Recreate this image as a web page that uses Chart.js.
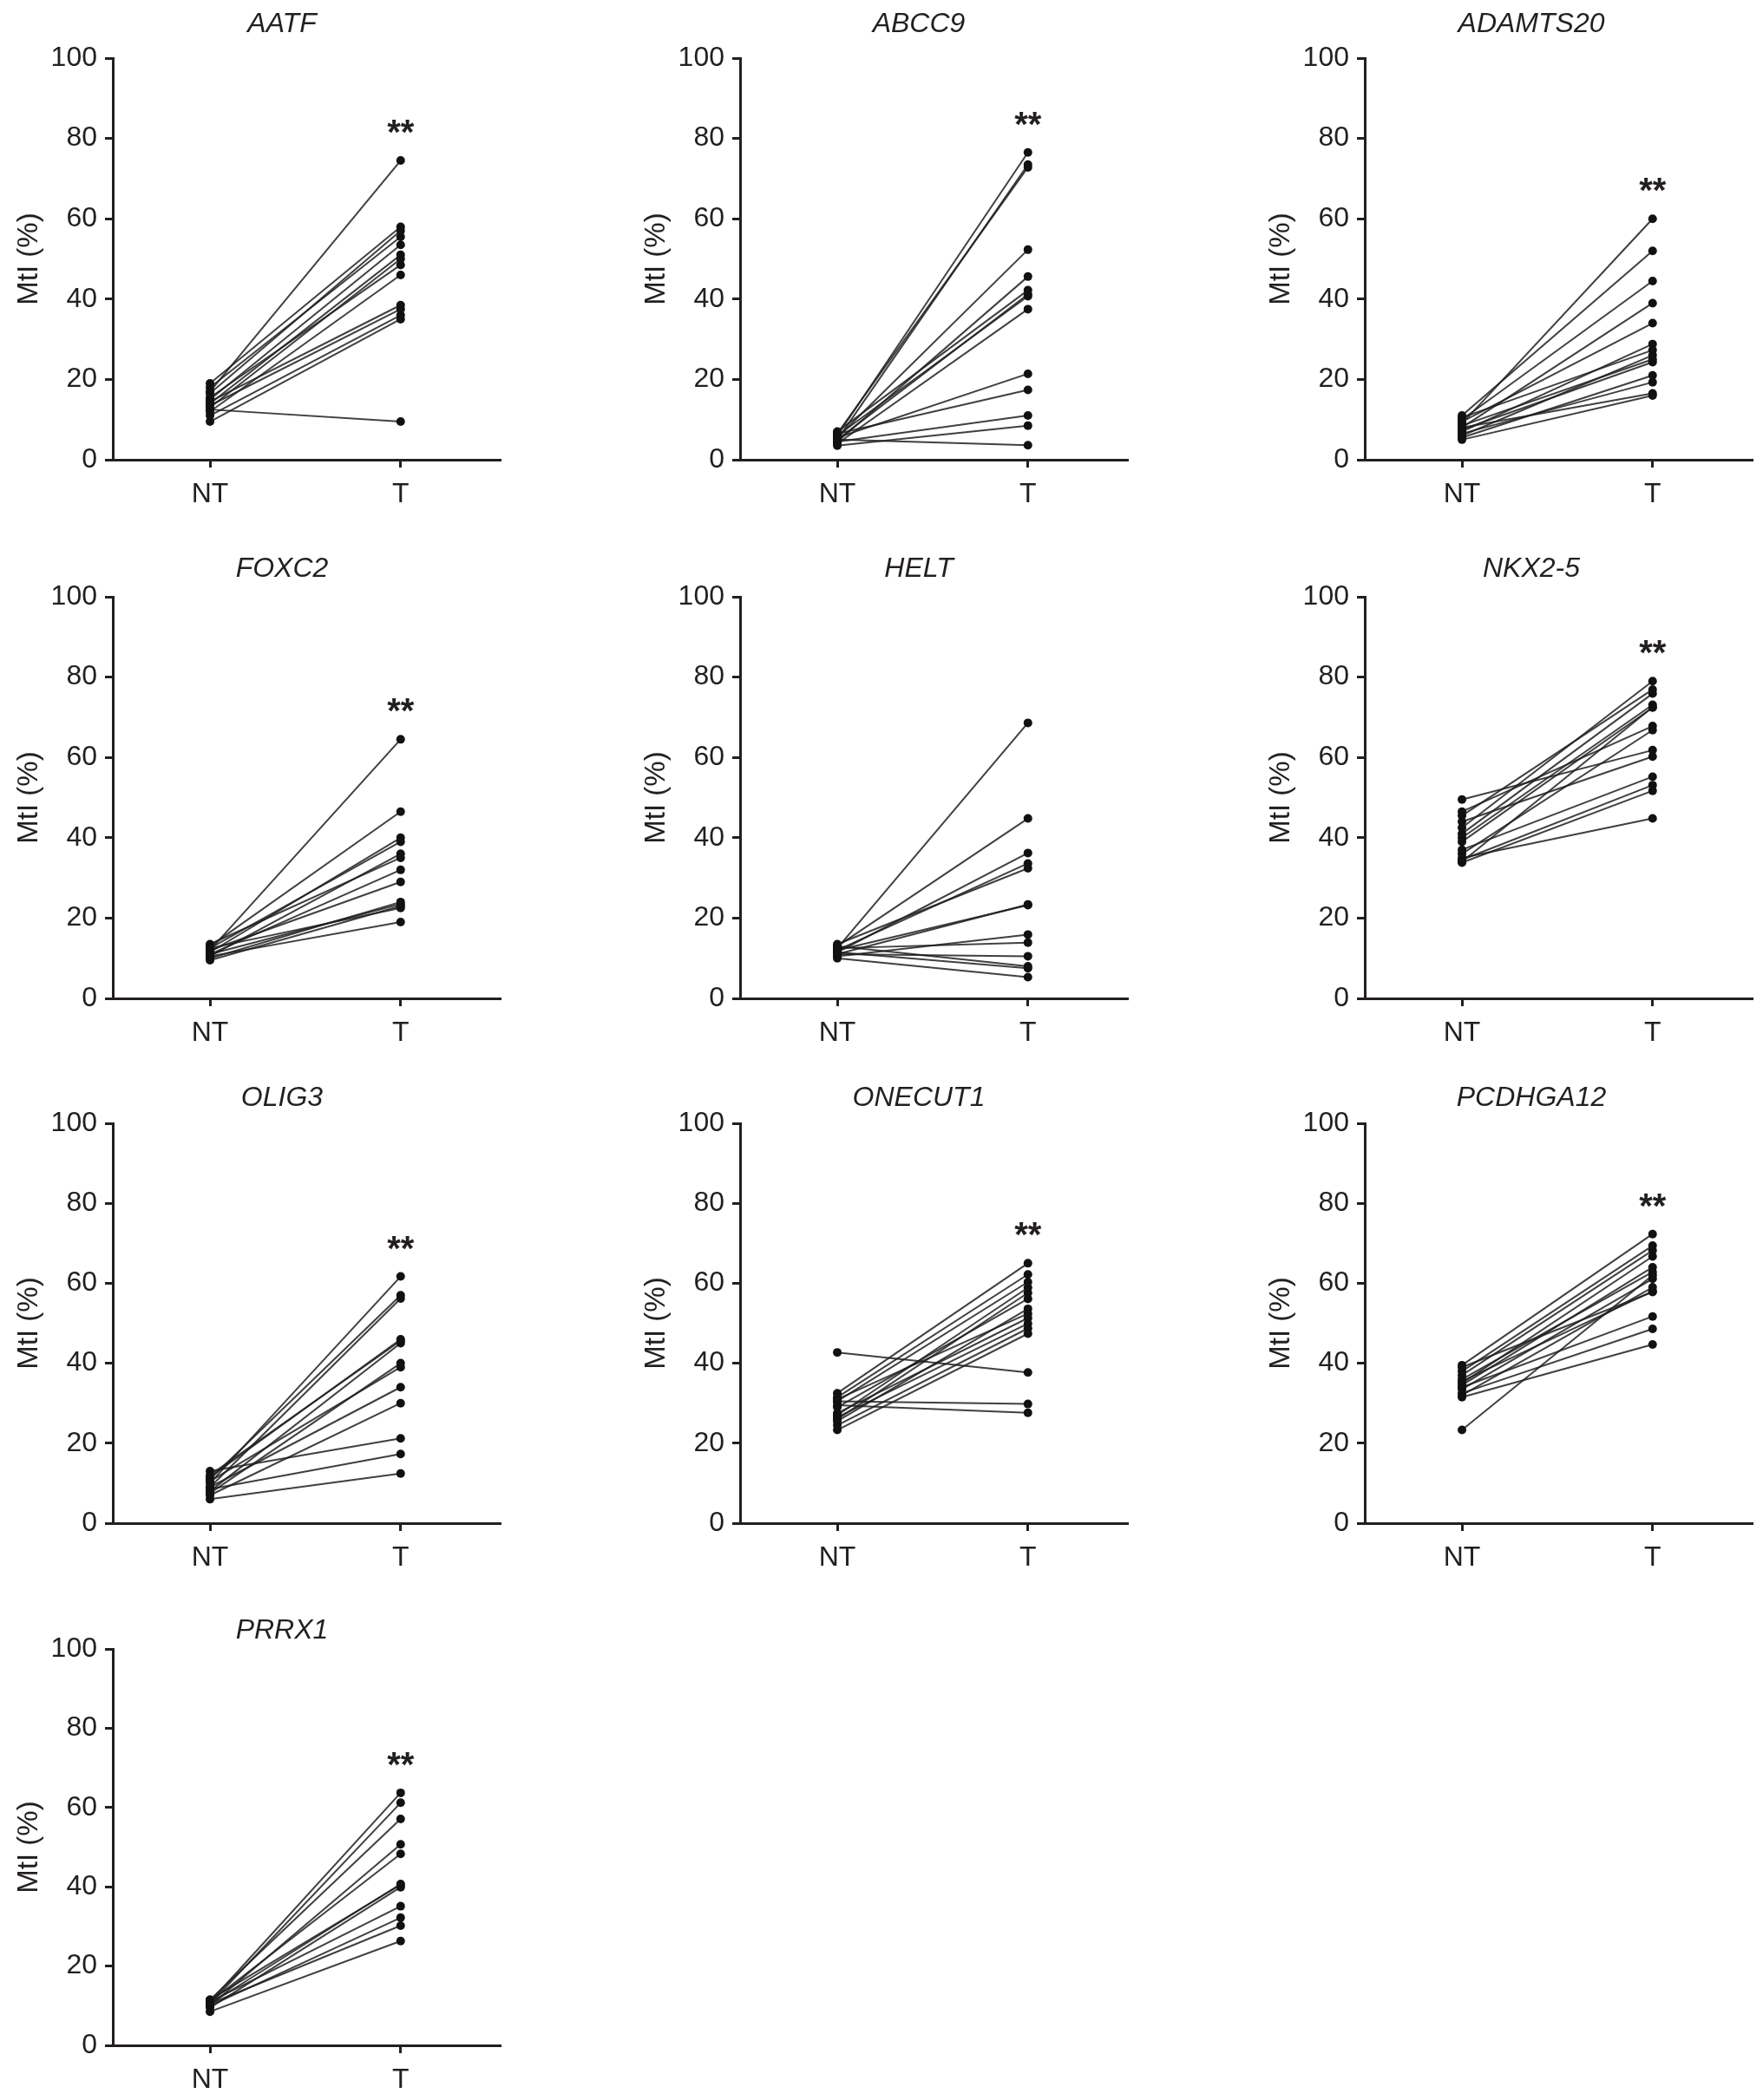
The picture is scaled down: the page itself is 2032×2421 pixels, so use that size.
<!DOCTYPE html>
<html>
<head>
<meta charset="utf-8">
<script src="https://cdn.jsdelivr.net/npm/chart.js@4.4.1/dist/chart.umd.min.js"></script>
<style>
  html, body { margin: 0; padding: 0; background: #fff; }
  #page { position: relative; width: 2032px; height: 2421px; overflow: hidden; background: #fff; }
  #page canvas { position: absolute; }
</style>
</head>
<body>
<div id="page"></div>
<script>
/* ── data ── */
const GROUPS = ['NT', 'T'];
const GENES = ['AATF', 'ABCC9', 'ADAMTS20', 'FOXC2', 'HELT', 'NKX2-5', 'OLIG3', 'ONECUT1', 'PCDHGA12', 'PRRX1'];
const SIGNIF = ['**', '**', '**', '**', '', '**', '**', '**', '**', '**'];
const Y_TITLE = 'MtI (%)';

const AATF_NT = [17, 19, 16.5, 18, 15, 14, 13, 15.5, 12, 14.5, 13.5, 11, 9.5, 12.5];
const AATF_T  = [74.5, 58, 57, 55.5, 53.5, 51, 50, 48.5, 46, 38.5, 37.5, 36, 35, 9.5];

const ABCC9_NT = [6, 5, 6.5, 5.5, 4.5, 7, 5, 6, 4, 5.5, 6.5, 4.5, 3.5, 5];
const ABCC9_T  = [76.5, 73.5, 72.8, 52.3, 45.6, 42.2, 41.2, 40.7, 37.5, 21.4, 17.4, 11, 8.5, 3.6];

const ADAMTS20_NT = [9, 11, 10, 8, 9.5, 7, 10.5, 6, 8.5, 7.5, 5.5, 6.5, 8, 5];
const ADAMTS20_T  = [60, 52, 44.5, 39, 34, 28.8, 27.3, 26, 25, 24.3, 21, 19.3, 16.5, 16];

const FOXC2_NT = [12, 13, 11.5, 12.5, 10.5, 13.5, 11, 12, 10, 11, 12.5, 10.5, 9.5];
const FOXC2_T  = [64.5, 46.5, 40, 39, 36, 35, 32, 29, 24, 23.5, 22.5, 19, 23];

const HELT_NT = [12.5, 13, 11.5, 12, 13.5, 11, 12, 10.5, 12.5, 11, 13, 11.5, 10];
const HELT_T  = [68.6, 44.8, 36.2, 33.6, 32.4, 23.4, 23.2, 15.9, 13.9, 10.5, 8, 7.5, 5.3];

const NKX2_5_NT = [49.5, 46.5, 45.5, 44, 42.5, 41, 40, 39, 37, 36, 34.5, 34, 33.8, 35];
const NKX2_5_T  = [61.8, 67.8, 76.9, 60.2, 79, 75.9, 73.1, 72.4, 55.2, 66.8, 53.1, 72.5, 51.7, 44.8];

const OLIG3_NT = [10, 11, 9, 12, 8, 7.5, 10.5, 9, 7, 13, 8.5, 6, 11.5];
const OLIG3_T  = [61.7, 57, 56.2, 45.6, 45, 40, 39, 34, 30, 21.2, 17.3, 12.4, 46];

const ONECUT1_NT = [42.7, 32.5, 31.5, 30.5, 27, 26, 29, 25.5, 31, 27.5, 26.5, 24.5, 23.3, 30.5, 29.5];
const ONECUT1_T  = [37.7, 65, 62.2, 60.3, 58.9, 57.6, 56.1, 53.6, 52.4, 51.3, 49.9, 48.7, 47.4, 29.8, 27.6];

const PCDHGA12_NT = [39.5, 38, 37, 35, 34.5, 36, 33.5, 32, 39, 35.5, 34, 32.5, 31.5, 23.3];
const PCDHGA12_T  = [72.3, 69.4, 68.2, 66.7, 64, 62.8, 61.1, 59, 57.8, 58, 51.7, 48.6, 44.7, 62];

const PRRX1_NT = [11, 10.5, 11.5, 10, 11, 10.5, 9.5, 11, 10, 10.5, 8.5, 11.5];
const PRRX1_T  = [63.7, 61.2, 57.1, 50.7, 48.3, 40.7, 39.9, 35.1, 32.2, 30.2, 26.3, 40.5];

const SERIES = [
  [AATF_NT, AATF_T], [ABCC9_NT, ABCC9_T], [ADAMTS20_NT, ADAMTS20_T],
  [FOXC2_NT, FOXC2_T], [HELT_NT, HELT_T], [NKX2_5_NT, NKX2_5_T],
  [OLIG3_NT, OLIG3_T], [ONECUT1_NT, ONECUT1_T], [PCDHGA12_NT, PCDHGA12_T],
  [PRRX1_NT, PRRX1_T]
];

/* ── layout (page pixels) ── */
const COL_AXIS_X = [130, 853, 1573];      // x of each column's y axis
const ROW_TOP = [67, 688, 1295, 1901];    // y of the 100 line per row
const ROW_PLOT_H = [463, 463, 461, 457];  // plot height per row
const TITLE_DX = [195, 206, 192];         // title centre from the y axis
const TITLE_GAP = [42, 35, 32, 24];       // title centre above the 100 line
const AXIS_W = 446, LEFT_W = 130, PAD_TOP = 67, X_AXIS_H = 70, PAD_RIGHT = 24;

const INK = '#231f20';
const FONT = '"Liberation Sans", Arial, Helvetica, sans-serif';

// gene name + significance stars
const panelText = {
  id: 'panelText',
  afterDraw(chart, args, opts) {
    const { ctx, chartArea, scales } = chart;
    ctx.save();
    ctx.fillStyle = INK;
    ctx.textAlign = 'center';
    ctx.textBaseline = 'alphabetic';
    ctx.font = 'italic 32px ' + FONT;
    ctx.fillText(opts.title, chartArea.left + opts.titleDx, chartArea.top - opts.titleGap + 11.5);
    if (opts.stars) {
      ctx.font = 'bold 40px ' + FONT;
      const x = scales.x.getPixelForValue(1);
      const y = scales.y.getPixelForValue(opts.starValue);
      ctx.fillText(opts.stars, x, y + 18);
    }
    ctx.restore();
  }
};

function renderPanel(i) {
  const col = i % 3, row = Math.floor(i / 3);
  const [nt, t] = SERIES[i];
  const plotH = ROW_PLOT_H[row];

  const canvas = document.createElement('canvas');
  const w = LEFT_W + AXIS_W + PAD_RIGHT, h = PAD_TOP + plotH + X_AXIS_H;
  canvas.width = w; canvas.height = h;
  canvas.style.width = w + 'px'; canvas.style.height = h + 'px';
  canvas.style.left = (COL_AXIS_X[col] - LEFT_W) + 'px';
  canvas.style.top = (ROW_TOP[row] - PAD_TOP) + 'px';
  document.getElementById('page').appendChild(canvas);

  const datasets = nt.map((v, k) => ({
    data: [{ x: 0, y: v }, { x: 1, y: t[k] }],
    borderColor: 'rgba(30,30,30,0.85)',
    borderWidth: 2,
    pointRadius: 5,
    pointBackgroundColor: '#111',
    pointBorderWidth: 0,
    tension: 0
  }));

  new Chart(canvas, {
    type: 'line',
    data: { datasets },
    options: {
      responsive: false, animation: false, devicePixelRatio: 1,
      layout: { padding: { top: PAD_TOP, right: PAD_RIGHT, left: 0, bottom: 0 } },
      plugins: {
        legend: { display: false },
        tooltip: { enabled: false },
        panelText: {
          title: GENES[i], titleDx: TITLE_DX[col], titleGap: TITLE_GAP[row],
          stars: SIGNIF[i], starValue: Math.max(...t) + 8
        }
      },
      scales: {
        x: {
          type: 'linear', min: -0.51, max: 1.52,
          afterBuildTicks: s => { s.ticks = GROUPS.map((g, k) => ({ value: k })); },
          grid: { drawOnChartArea: false, tickLength: 9, lineWidth: 3, color: INK },
          border: { width: 3, color: INK },
          ticks: { color: INK, font: { family: FONT, size: 32 }, padding: 12, maxRotation: 0,
                   callback: v => GROUPS[v] },
          afterFit: s => { s.height = X_AXIS_H; }
        },
        y: {
          min: 0, max: 100,
          grid: { drawOnChartArea: false, tickLength: 9, lineWidth: 3, color: INK },
          border: { width: 3, color: INK },
          ticks: { stepSize: 20, color: INK, font: { family: FONT, size: 32 }, padding: 9 },
          title: { display: true, text: Y_TITLE, color: INK, font: { family: FONT, size: 33 }, padding: { top: 14, bottom: 0 } },
          afterFit: s => { s.width = LEFT_W; }
        }
      }
    },
    plugins: [panelText]
  });
}

GENES.forEach((g, i) => renderPanel(i));
</script>
</body>
</html>
